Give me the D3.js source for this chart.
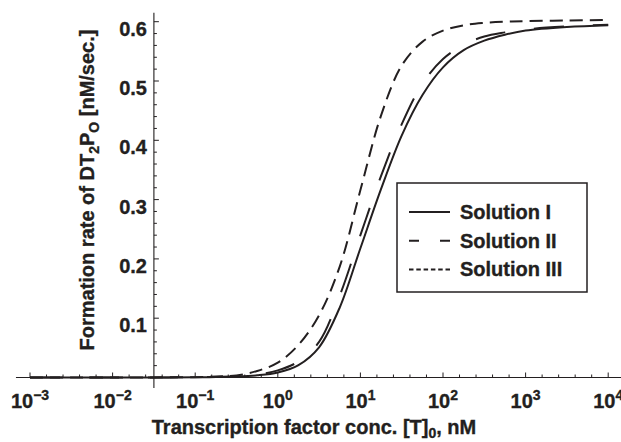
<!DOCTYPE html>
<html><head><meta charset="utf-8">
<script src="https://cdn.jsdelivr.net/npm/d3@7"></script>
<style>
body{margin:0;background:#fff}
svg{display:block}
text{font-family:"Liberation Sans",Arial,Helvetica,sans-serif;font-weight:bold;fill:#231f20;stroke:#231f20;stroke-width:0.35px}
</style>
</head><body>
<svg id="c" width="621" height="442"></svg>
<script>
// Transcription factor concentration [T]0, nM
const conc = [1e-3, 3.16e-3, 1e-2, 3.16e-2, 0.1, 0.178, 0.316, 0.562, 1, 1.78, 3.16, 5.62,
              10, 17.8, 31.6, 56.2, 100, 178, 316, 562, 1000, 3162, 10000];
// Formation rate of DT2PO [nM/sec.]
const solutionI   = [0, 0, 0, 0.0001, 0.0003, 0.0007, 0.0015, 0.0036, 0.0085, 0.021, 0.051, 0.118,
                     0.218, 0.318, 0.408, 0.476, 0.523, 0.552, 0.568, 0.578, 0.585, 0.591, 0.594];
const solutionII  = [0, 0, 0, 0.0001, 0.0004, 0.001, 0.002, 0.005, 0.012, 0.027, 0.060, 0.138,
                     0.240, 0.340, 0.427, 0.495, 0.537, 0.561, 0.575, 0.582, 0.587, 0.592, 0.595];
const solutionIII = [0, 0, 0, 0.0002, 0.0006, 0.0015, 0.0035, 0.011, 0.025, 0.055, 0.105, 0.187,
                     0.316, 0.442, 0.526, 0.566, 0.585, 0.594, 0.598, 0.600, 0.601, 0.602, 0.603];
const seriesNames = ["Solution I", "Solution II", "Solution III"];
const xTickExps = [-3, -2, -1, 0, 1, 2, 3, 4];
const yTickVals = [0.1, 0.2, 0.3, 0.4, 0.5, 0.6];

const svg = d3.select("#c");
const ink = "#231f20";

const x = d3.scaleLog().domain([1e-3, 1e4]).range([30, 608.2]);
const y = d3.scaleLinear().domain([0, 0.6]).range([377.5, 21.7]);

const xAxisY = y(0);
const yAxisX = x(Math.pow(10, -1.5));

// axes lines
svg.append("line").attr("x1", x(Math.pow(10, -3.17))).attr("x2", 621)
  .attr("y1", xAxisY).attr("y2", xAxisY).attr("stroke", ink).attr("stroke-width", 1.1);
svg.append("line").attr("x1", yAxisX).attr("x2", yAxisX)
  .attr("y1", y(0.615)).attr("y2", 388).attr("stroke", ink).attr("stroke-width", 1.1);

// x ticks: major at decades, minor every 0.2 decade
const xTicks = [];
for (let e = -3; e <= 4.001; e += 0.2) xTicks.push(Math.round(e * 10) / 10);
svg.append("g").selectAll("line").data(xTicks).join("line")
  .attr("x1", d => x(Math.pow(10, d))).attr("x2", d => x(Math.pow(10, d)))
  .attr("y1", xAxisY)
  .attr("y2", d => Number.isInteger(d) ? xAxisY - 5 : xAxisY - 3)
  .attr("stroke", ink).attr("stroke-width", 1);

// y ticks: major 0.1, minor 0.02
const yTicks = d3.range(1, 31).map(i => i * 0.02);
svg.append("g").selectAll("line").data(yTicks).join("line")
  .attr("x1", yAxisX)
  .attr("x2", (d, i) => ((i + 1) % 5 === 0) ? yAxisX + 5 : yAxisX + 3)
  .attr("y1", d => y(d)).attr("y2", d => y(d))
  .attr("stroke", ink).attr("stroke-width", 1);

// x tick labels
const xl = svg.append("g").selectAll("text").data(xTickExps).join("text")
  .attr("x", d => x(Math.pow(10, d))).attr("y", 408)
  .attr("text-anchor", "middle").style("font-size", "20px");
xl.append("tspan").text("10");
xl.append("tspan").attr("dy", -8).style("font-size", "14px")
  .text(d => d < 0 ? "\u2212" + Math.abs(d) : String(d));

// y tick labels
svg.append("g").selectAll("text").data(yTickVals).join("text")
  .attr("x", 147).attr("y", d => y(d) + 14)
  .attr("text-anchor", "end").style("font-size", "20px")
  .text(d => d.toFixed(1));

// axis titles
const xt = svg.append("text").attr("x", 314).attr("y", 434)
  .attr("text-anchor", "middle").style("font-size", "20px");
xt.append("tspan").text("Transcription factor conc. [T]");
xt.append("tspan").attr("dy", 4).style("font-size", "14px").text("0");
xt.append("tspan").attr("dy", -4).text(", nM");

const yt = svg.append("text").attr("transform", "translate(94,190) rotate(-90)")
  .attr("text-anchor", "middle").style("font-size", "20px");
yt.append("tspan").text("Formation rate of DT");
yt.append("tspan").attr("dy", 5).style("font-size", "14px").text("2");
yt.append("tspan").attr("dy", -5).text("P");
yt.append("tspan").attr("dy", 5).style("font-size", "14px").text("O");
yt.append("tspan").attr("dy", -5).text(" [nM/sec.]");

// curves
const line = d3.line().x(d => x(d[0])).y(d => y(d[1])).curve(d3.curveCatmullRom.alpha(0.5));
const series = [
  { name: seriesNames[0], vals: solutionI,   dash: null,      legDash: null },
  { name: seriesNames[1], vals: solutionII,  dash: "30,29",   legDash: "10,21" },
  { name: seriesNames[2], vals: solutionIII, dash: "13,7",    legDash: "4.5,2.8" }
];
series.forEach(s => {
  svg.append("path").datum(conc.map((c, i) => [c, s.vals[i]]))
    .attr("d", line).attr("fill", "none").attr("stroke", ink)
    .attr("stroke-width", 2).attr("stroke-dasharray", s.dash);
});

// legend
const lg = svg.append("g");
lg.append("rect").attr("x", 397).attr("y", 183).attr("width", 190).attr("height", 109)
  .attr("fill", "#fff").attr("stroke", ink).attr("stroke-width", 1.5);
series.forEach((s, i) => {
  const ly = 212 + i * 28.7;
  lg.append("line").attr("x1", 409).attr("x2", 450).attr("y1", ly).attr("y2", ly)
    .attr("stroke", ink).attr("stroke-width", 2).attr("stroke-dasharray", s.legDash);
  lg.append("text").attr("x", 460).attr("y", ly + 7).style("font-size", "20px").text(s.name);
});
</script>
</body></html>
